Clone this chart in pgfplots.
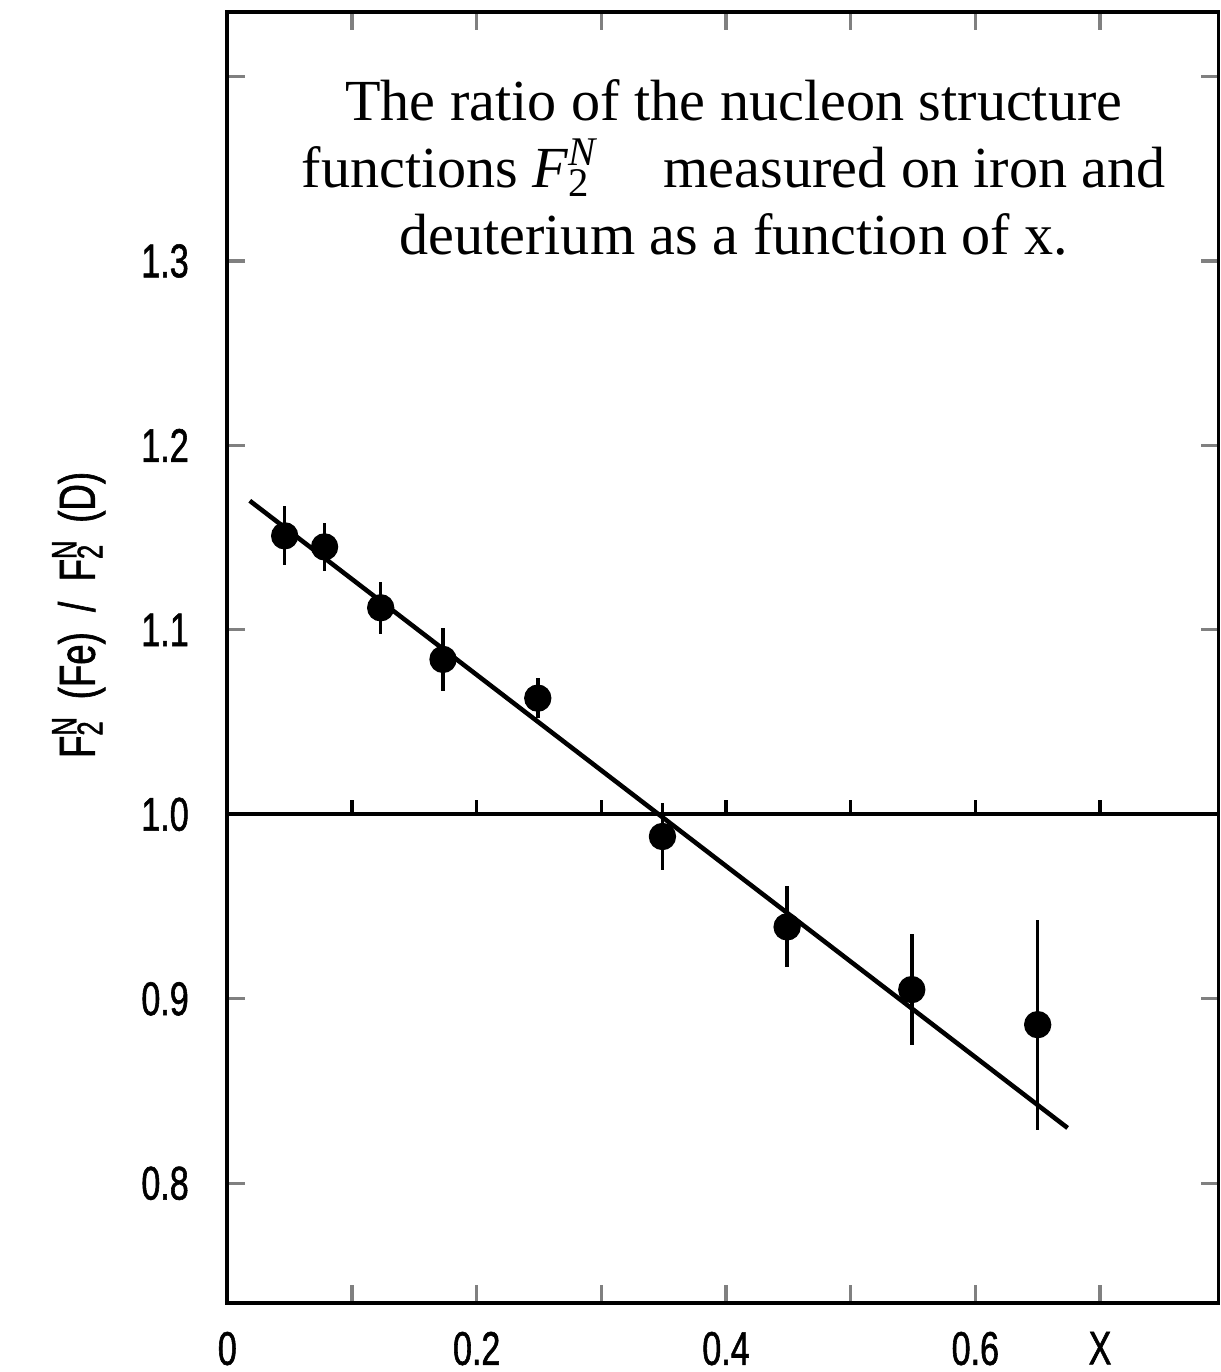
\documentclass[border=0pt]{standalone}
\usepackage{fontspec}
\setmainfont{Liberation Serif}
\newfontfamily\plotfont[FakeStretch=0.72, FakeBold=1.2]{Liberation Sans}
\usepackage{pgfplots}
\pgfplotsset{compat=1.18}
\usepackage{pgfplotstable}

% F2(Fe)/F2(D) ratio
\pgfplotstableread{
x      y      err
0.046  1.151  0.016
0.078  1.145  0.013
0.123  1.112  0.014
0.173  1.084  0.017
0.249  1.063  0.011
0.349  0.988  0.018
0.449  0.939  0.022
0.549  0.905  0.030
0.650  0.886  0.057
}\ratiodata

\newcommand{\FN}{F\rlap{\textsuperscript{N}}\textsubscript{2}}

\begin{document}
\begin{tikzpicture}
\begin{axis}[
    scale only axis,
    width=9.94cm, height=12.95cm,
    xmin=0, xmax=0.795,
    ymin=0.735, ymax=1.435,
    xtick={0,0.1,0.2,0.3,0.4,0.5,0.6,0.7},
    xticklabels={0,,0.2,,0.4,,0.6,X},
    ytick={0.8,0.9,1.0,1.1,1.2,1.3,1.4},
    yticklabels={0.8,0.9,1.0,1.1,1.2,1.3,},
    axis line style={line width=1.1pt},
    major tick length=0.18cm,
    tick style={line width=0.9pt},
    ticklabel style={font=\plotfont\fontsize{13.5}{16}\selectfont, inner sep=0pt},
    xticklabel style={yshift=-0.28cm},
    yticklabel style={xshift=-0.38cm},
    ylabel={\FN\ \ (Fe) \ / \ \FN\ \ (D)},
    ylabel style={font=\plotfont\fontsize{14.5}{16}\selectfont,
        at={(axis description cs:-0.150,0.533)}, anchor=center},
]
% reference line at 1 with its small ticks
\addplot[black, line width=1.1pt] coordinates {(0,1) (0.795,1)};
\addplot[black, line width=0.9pt, unbounded coords=jump] coordinates {
    (0.1,1) (0.1,1.008) (0.1,nan)
    (0.2,1) (0.2,1.008) (0.2,nan)
    (0.3,1) (0.3,1.008) (0.3,nan)
    (0.4,1) (0.4,1.008) (0.4,nan)
    (0.5,1) (0.5,1.008) (0.5,nan)
    (0.6,1) (0.6,1.008) (0.6,nan)
    (0.7,1) (0.7,1.008)
};
% straight line fit
\addplot[black, line width=1.3pt] coordinates {(0.018,1.170) (0.674,0.830)};
% data
\addplot[black, only marks, mark=*, mark size=3.7pt,
    error bars/.cd, y dir=both, y explicit, error mark=none,
    error bar style={line width=1pt}]
    table[x=x, y=y, y error=err] {\ratiodata};

\node[anchor=north, align=center, inner sep=0pt,
      font=\fontsize{16.6}{19.1}\selectfont]
    at (rel axis cs:0.511,0.948)
    {The ratio of the nucleon structure\\
     functions \textit{F}\rlap{\textsuperscript{\textit{N}}}\textsubscript{2}\hspace{1em} measured on iron and\\
     deuterium as a function of x.};
\end{axis}
\path ([xshift=-2.28cm,yshift=-0.69cm]current axis.south west)
    rectangle ([xshift=0.01cm,yshift=0.12cm]current axis.north east);
\end{tikzpicture}
\end{document}
